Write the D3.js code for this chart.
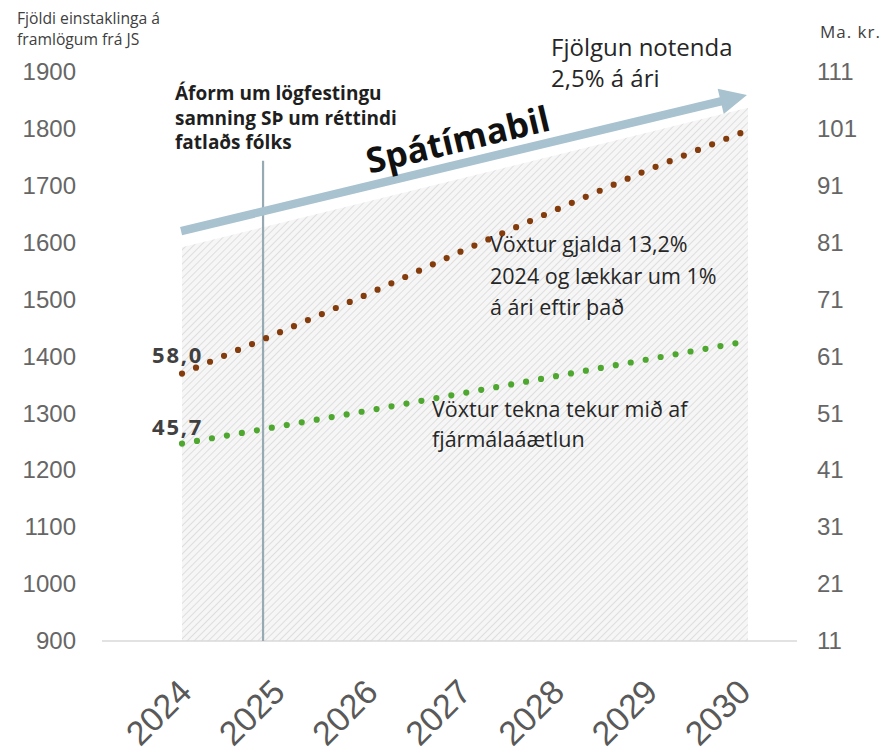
<!DOCTYPE html>
<html>
<head>
<meta charset="utf-8">
<script src="https://cdn.jsdelivr.net/npm/d3@7"></script>
<style>
  html, body { margin: 0; padding: 0; background: #fff; }
  svg { display: block; font-family: "Open Sans", "Liberation Sans", Arial, sans-serif; }
</style>
</head>
<body>
<svg id="chart" width="887" height="752"></svg>
<script>
// ---- Data ----
const years = [2024, 2025, 2026, 2027, 2028, 2029, 2030];
const expenses = [58.0, 64.9, 72.0, 79.5, 86.7, 93.8, 100.3];   // Ma. kr. (Vöxtur gjalda)
const revenue  = [45.7, 48.6, 51.5, 54.5, 57.5, 60.5, 63.5];    // Ma. kr. (Vöxtur tekna)
const leftTicks  = [900, 1000, 1100, 1200, 1300, 1400, 1500, 1600, 1700, 1800, 1900];
const rightTicks = [11, 21, 31, 41, 51, 61, 71, 81, 91, 101, 111];
const startLabels = ["58,0", "45,7"];
// forecast region (right-axis units) and annotation markers
const forecastTop = [{year: 2024, v: 80.2}, {year: 2030.075, v: 104.7}];
const arrowPts = [{year: 2023.99, v: 83.05}, {year: 2030.064, v: 106.96}];
const policyYear = 2024.87;
const policyTop = 1744;

const svg = d3.select("#chart");

const x  = d3.scaleLinear().domain([2024, 2030]).range([182, 741]);
const yL = d3.scaleLinear().domain([900, 1900]).range([641, 72]);
const yR = d3.scaleLinear().domain([11, 111]).range([641, 72]);

const tickFont = "Liberation Sans, Arial, sans-serif";

// ---- hatch pattern ----
const defs = svg.append("defs");
const pat = defs.append("pattern")
  .attr("id", "hatch").attr("patternUnits", "userSpaceOnUse")
  .attr("width", 5).attr("height", 5)
  .attr("patternTransform", "rotate(45)");
pat.append("rect").attr("width", 5).attr("height", 5).attr("fill", "#f6f6f6");
pat.append("line").attr("x1", 0).attr("y1", 0).attr("x2", 0).attr("y2", 5)
  .attr("stroke", "#d6d6d6").attr("stroke-width", 1.5);

// forecast area
const area = d3.area()
  .x(d => x(d.year))
  .y0(yR(11))
  .y1(d => yR(d.v));
svg.append("path").datum(forecastTop).attr("d", area).attr("fill", "url(#hatch)");

// x baseline
svg.append("line")
  .attr("x1", 102).attr("x2", 797)
  .attr("y1", yR(11)).attr("y2", yR(11))
  .attr("stroke", "#d9d9d9").attr("stroke-width", 1.5);

// policy vertical line
svg.append("line")
  .attr("x1", x(policyYear)).attr("x2", x(policyYear))
  .attr("y1", yL(policyTop)).attr("y2", yL(900))
  .attr("stroke", "#97aab3").attr("stroke-width", 2.2);

// ---- Axes ----
const leftAxis = d3.axisLeft(yL).tickValues(leftTicks).tickSize(0).tickPadding(0).tickFormat(d3.format("d"));
const gL = svg.append("g").attr("transform", "translate(76,0)").call(leftAxis);
gL.select(".domain").remove();
gL.selectAll("text").attr("font-size", 24).attr("fill", "#666").attr("font-family", tickFont);

const rightAxis = d3.axisRight(yR).tickValues(rightTicks).tickSize(0).tickPadding(0).tickFormat(d3.format("d"));
const gR = svg.append("g").attr("transform", "translate(817,0)").call(rightAxis);
gR.select(".domain").remove();
gR.selectAll("text").attr("font-size", 24).attr("fill", "#666").attr("font-family", tickFont);

// x labels rotated
const xAxis = d3.axisBottom(x).tickValues(years).tickSize(0).tickFormat(d3.format("d"));
const gX = svg.append("g").attr("transform", `translate(0,${yR(11)})`).call(xAxis);
gX.select(".domain").remove();
gX.selectAll("text")
  .attr("font-size", 34).attr("fill", "#595959")
  .attr("font-family", tickFont)
  .attr("text-anchor", "end")
  .attr("dy", 0)
  .attr("transform", "translate(9,51) rotate(-45)");

// axis titles
const titleL = svg.append("text").attr("x", 17).attr("y", 24).attr("font-size", 15.7).attr("fill", "#404040");
titleL.append("tspan").attr("x", 17).attr("dy", 0).text("Fjöldi einstaklinga á");
titleL.append("tspan").attr("x", 17).attr("dy", 21).text("framlögum frá JS");
svg.append("text").attr("x", 820).attr("y", 38).attr("font-size", 17).attr("letter-spacing", 1)
  .attr("fill", "#404040").text("Ma. kr.");

// ---- Arrow ----
const a0 = [x(arrowPts[0].year), yR(arrowPts[0].v)];
const a1 = [x(arrowPts[1].year), yR(arrowPts[1].v)];
const ang = Math.atan2(a1[1] - a0[1], a1[0] - a0[0]);
const headLen = 27, headHalf = 13;
const ux = Math.cos(ang), uy = Math.sin(ang);
const base = [a1[0] - headLen * ux, a1[1] - headLen * uy];
svg.append("line")
  .attr("x1", a0[0]).attr("y1", a0[1]).attr("x2", base[0] + ux).attr("y2", base[1] + uy)
  .attr("stroke", "#a8c2cf").attr("stroke-width", 8.5);
svg.append("path")
  .attr("d", `M${a1[0]},${a1[1]} L${base[0] - headHalf * uy},${base[1] + headHalf * ux} L${base[0] + headHalf * uy},${base[1] - headHalf * ux} Z`)
  .attr("fill", "#a8c2cf");

// Spátímabil
const deg = ang * 180 / Math.PI;
svg.append("text")
  .attr("transform", `translate(${x(2026.96)},${yR(99.05)}) rotate(${deg})`)
  .attr("text-anchor", "middle").attr("dy", "0.35em")
  .attr("font-family", "Open Sans, sans-serif")
  .attr("font-weight", "bold").attr("font-size", 35).attr("fill", "#111")
  .text("Spátímabil");

// ---- Lines ----
const line = d3.line().x((d, i) => x(years[i])).y(d => yR(d));
svg.append("path").datum(expenses).attr("d", line)
  .attr("fill", "none").attr("stroke", "#843c0c").attr("stroke-width", 6.2)
  .attr("stroke-linecap", "round").attr("stroke-dasharray", "0,15.2");
svg.append("path").datum(revenue).attr("d", line)
  .attr("fill", "none").attr("stroke", "#4ea72e").attr("stroke-width", 6.2)
  .attr("stroke-linecap", "round").attr("stroke-dasharray", "0,15.2");

// start value labels
svg.append("text").attr("x", x(2024) - 30).attr("y", yR(expenses[0]) - 11)
  .attr("font-size", 22).attr("font-weight", "bold").attr("fill", "#404040")
  .attr("letter-spacing", 1.8).text(startLabels[0]);
svg.append("text").attr("x", x(2024) - 30).attr("y", yR(revenue[0]) - 9)
  .attr("font-size", 22).attr("font-weight", "bold").attr("fill", "#404040")
  .attr("letter-spacing", 1.8).text(startLabels[1]);

// ---- Annotations ----
function multi(xp, yp, lines, size, lh, weight, color) {
  const t = svg.append("text").attr("x", xp).attr("y", yp)
    .attr("font-size", size).attr("font-weight", weight).attr("fill", color);
  lines.forEach((s, i) => t.append("tspan").attr("x", xp).attr("dy", i === 0 ? 0 : lh).text(s));
}
multi(175, 100, ["Áform um lögfestingu", "samning SÞ um réttindi", "fatlaðs fólks"], 19, 24.5, "bold", "#1f1f1f");
multi(551, 56, ["Fjölgun notenda", "2,5% á ári"], 24, 30.5, "normal", "#262626");
multi(490, 252, ["Vöxtur gjalda 13,2%", "2024 og lækkar um 1%", "á ári eftir það"], 21.5, 31.5, "normal", "#262626");
multi(432, 417, ["Vöxtur tekna tekur mið af", "fjármálaáætlun"], 21.5, 30, "normal", "#262626");
</script>
</body>
</html>
